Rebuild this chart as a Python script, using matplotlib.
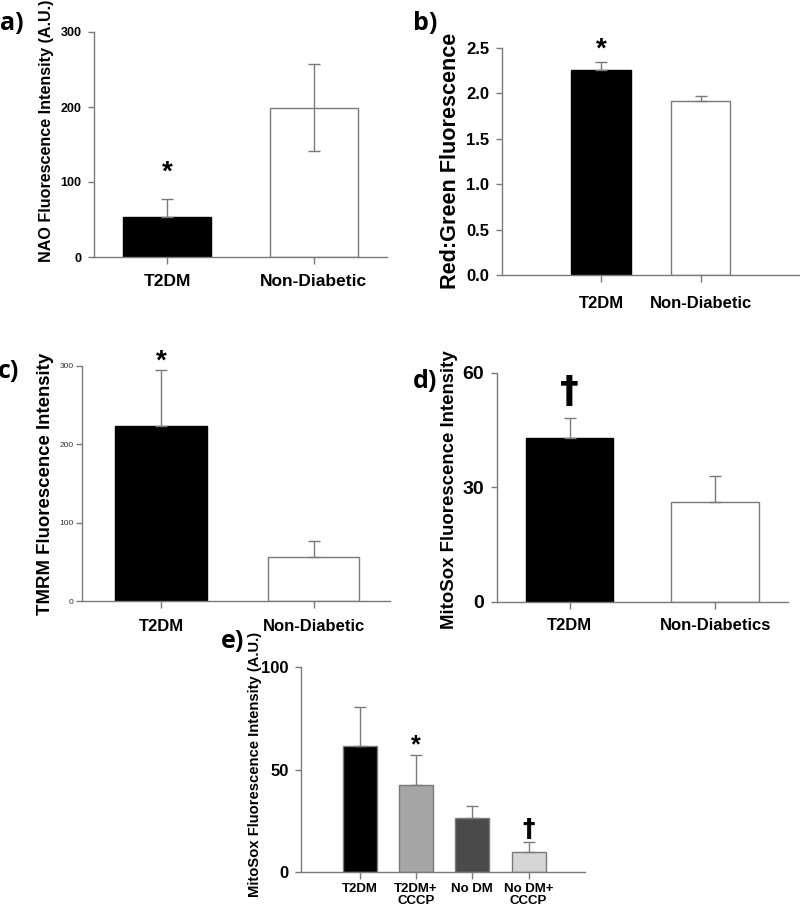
import matplotlib
matplotlib.use('Agg')
import matplotlib.pyplot as plt
from matplotlib.ticker import FormatStrFormatter

plt.rcParams['font.family'] = ['Liberation Sans', 'DejaVu Sans']
plt.rcParams['font.weight'] = 'bold'

# ---------------- data ----------------
a_cats = ['T2DM', 'Non-Diabetic']
a_vals = [54, 199]
a_err_up = [24, 58]
a_err_dn = [0, 58]

b_cats = ['T2DM', 'Non-Diabetic']
b_vals = [2.26, 1.91]
b_err = [0.08, 0.06]

c_cats = ['T2DM', 'Non-Diabetic']
c_vals = [224, 56]
c_err = [71, 20]

d_cats = ['T2DM', 'Non-Diabetics']
d_vals = [43, 26]
d_err = [5, 7]

e_cats = ['T2DM', 'T2DM+\nCCCP', 'No DM', 'No DM+\nCCCP']
e_vals = [61.5, 42.4, 26.5, 9.9]
e_err = [18.8, 14.5, 5.5, 4.9]

a_ticks = [0, 100, 200, 300]
b_ticks = [0.0, 0.5, 1.0, 1.5, 2.0, 2.5]
c_ticks = [0, 100, 200, 300]
d_ticks = [0, 30, 60]
e_ticks = [0, 50, 100]

W, H = 800, 910
fig = plt.figure(figsize=(8, 9.1), dpi=100)
GRAY = '#7a7a7a'
LETTER_FONT = ['Open Sans', 'DejaVu Sans']
DAGGER_FONT = ['DejaVu Sans']


def px_axes(x0, y0, x1, y1):
    return fig.add_axes([x0 / W, 1 - y1 / H, (x1 - x0) / W, (y1 - y0) / H])


def base(ax, cats, vals, colors, edges, xlim, ylim, yticks, ytsize, xtsize,
         xpad, ypad, ytcolor='black', ytweight='bold'):
    x = list(range(len(cats)))
    ax.bar(x, vals, width=0.6, color=colors, edgecolor=edges, linewidth=1, zorder=2)
    ax.set_xlim(*xlim)
    ax.set_ylim(*ylim)
    ax.set_yticks(yticks)
    ax.set_xticks(x)
    ax.set_xticklabels(cats, fontsize=xtsize, fontweight='bold')
    for lab in ax.get_yticklabels():
        lab.set_fontsize(ytsize)
        lab.set_fontweight(ytweight)
        lab.set_color(ytcolor)
    for s in ['top', 'right']:
        ax.spines[s].set_visible(False)
    for s in ['left', 'bottom']:
        ax.spines[s].set_color(GRAY)
        ax.spines[s].set_linewidth(1)
    ax.tick_params(axis='x', length=5, width=1, color=GRAY, pad=xpad)
    ax.tick_params(axis='y', length=4, width=1, color=GRAY, pad=ypad)
    return x


def label(ax, text, cx, cy, size):
    fig.text(cx / W, 1 - cy / H, text, rotation=90, ha='center', va='center',
             fontsize=size, fontweight='bold')


def letter(text, cx, cy, size=18):
    fig.text(cx / W, 1 - cy / H, text, ha='center', va='center', fontsize=size,
             fontweight='bold', family=LETTER_FONT)


def mark(ax, xi, y, sym, size, off, family=None):
    kw = {}
    if family is not None:
        kw['family'] = family
    ax.annotate(sym, xy=(xi, y), xytext=(0, off), textcoords='offset pixels',
                ha='center', va='center', fontsize=size, fontweight='bold', **kw)


# ---------------- panel a ----------------
ax = px_axes(94, 32, 387, 257)
x = base(ax, a_cats, a_vals, ['black', 'white'], ['black', GRAY], (-0.5, 1.5), (0, 300),
         a_ticks, 9, 12.5, 7, 5)
ax.errorbar(x, a_vals, yerr=[a_err_dn, a_err_up], fmt='none', ecolor=GRAY,
            elinewidth=1, capsize=4, capthick=1, zorder=3)
mark(ax, 0, a_vals[0] + a_err_up[0], '*', 20, 26)
label(ax, 'NAO Fluorescence Intensity (A.U.)', 47, 131, 11.6)
letter('a)', 12, 24)

# ---------------- panel b ----------------
ax = px_axes(501.7, 47.7, 800, 275.3)
x = base(ax, b_cats, b_vals, ['black', 'white'], ['black', GRAY], (-1, 2), (0, 2.5),
         b_ticks, 12, 12, 10, 5)
ax.yaxis.set_major_formatter(FormatStrFormatter('%.1f'))
ax.errorbar(x, b_vals, yerr=[[0, 0], b_err], fmt='none', ecolor=GRAY,
            elinewidth=1, capsize=4, capthick=1, zorder=3)
mark(ax, 0, b_vals[0] + b_err[0], '*', 20, 13)
label(ax, 'Red:Green Fluorescence', 450, 161, 15.6)
letter('b)', 425, 24)

# ---------------- panel c ----------------
ax = px_axes(81.7, 366, 390, 601)
x = base(ax, c_cats, c_vals, ['black', 'white'], ['black', GRAY], (-0.52, 1.5), (0, 300),
         c_ticks, 6, 12, 8, 2, ytcolor='#333333', ytweight='normal')
ax.errorbar(x, c_vals, yerr=[[0, 0], c_err], fmt='none', ecolor=GRAY,
            elinewidth=1, capsize=4, capthick=1, zorder=3)
mark(ax, 0, c_vals[0] + c_err[0], '*', 20, 8)
label(ax, 'TMRM Fluorescence Intensity', 46, 484, 13.4)
letter('c)', 9, 372)

# ---------------- panel d ----------------
ax = px_axes(496.7, 372.7, 788, 601.7)
x = base(ax, d_cats, d_vals, ['black', 'white'], ['black', GRAY], (-0.5, 1.5), (0, 60),
         d_ticks, 14, 12, 7, 5)
ax.errorbar(x, d_vals, yerr=[[0, 0], d_err], fmt='none', ecolor=GRAY,
            elinewidth=1, capsize=4, capthick=1, zorder=3)
mark(ax, 0, d_vals[0] + d_err[0], '\u2020', 27, 26, DAGGER_FONT)
label(ax, 'MitoSox Fluorescence Intensity', 450, 490, 13.4)
letter('d)', 425, 381)

# ---------------- panel e ----------------
ax = px_axes(301, 667, 585, 872)
x = base(ax, e_cats, e_vals, ['black', '#a6a6a6', '#4a4a4a', '#d6d6d6'],
         [GRAY] * 4, (-1.04, 4.0), (0, 100), e_ticks, 12, 9.5, 3, 5)
for lab in ax.get_xticklabels():
    lab.set_linespacing(0.95)
ax.errorbar(x, e_vals, yerr=[[0] * 4, e_err], fmt='none', ecolor=GRAY,
            elinewidth=1, capsize=4, capthick=1, zorder=3)
mark(ax, 1, e_vals[1] + e_err[1], '*', 18, 10)
mark(ax, 3, e_vals[3] + e_err[3], '\u2020', 18, 13, DAGGER_FONT)
label(ax, 'MitoSox Fluorescence Intensity (A.U.)', 255, 764, 10.6)
letter('e)', 233, 641)

fig.savefig('out.png', dpi=100)
